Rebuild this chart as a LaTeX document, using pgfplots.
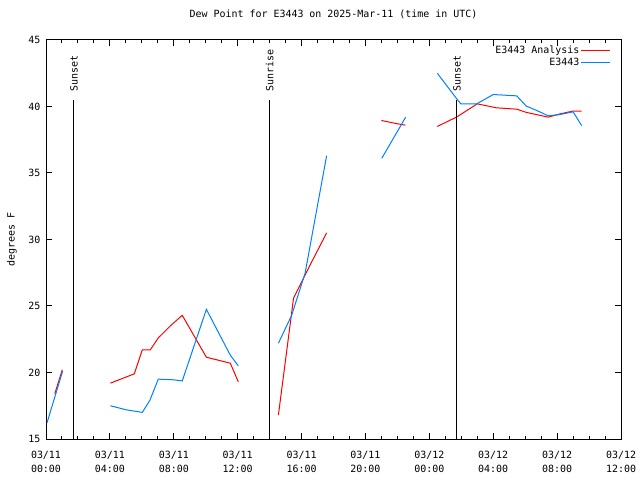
\documentclass[border=0pt]{standalone}
\usepackage{fontspec}
\setmainfont{DejaVu Sans Mono}
\usepackage{pgfplots}
\pgfplotsset{compat=1.18}
\definecolor{gred}{RGB}{255,0,0}
\definecolor{gblue}{RGB}{0,128,255}
\begin{document}
\fontsize{10}{12}\selectfont
\begin{tikzpicture}
\useasboundingbox (0bp,0bp) rectangle (640bp,480bp);
\begin{axis}[
  at={(46bp,41bp)}, anchor=south west,
  scale only axis, width=575bp, height=399bp,
  xmin=0, xmax=36, ymin=15, ymax=45,
  xtick={0,4,...,36}, minor x tick num=3,
  ytick={15,20,...,45},
  xticklabels={{03/11\\00:00},{03/11\\04:00},{03/11\\08:00},{03/11\\12:00},{03/11\\16:00},{03/11\\20:00},{03/12\\00:00},{03/12\\04:00},{03/12\\08:00},{03/12\\12:00}},
  xticklabel style={align=center, font=\fontsize{10}{14}\selectfont, yshift=-9bp},
  yticklabel style={xshift=-2bp},
  /pgf/number format/assume math mode=true,
  major tick length=6bp, minor tick length=3bp,
  every tick/.style={black, line width=1bp},
  axis line style={line width=1bp},
  title={Dew Point for E3443 on 2025-Mar-11 (time in UTC)},
  title style={at={(axis description cs:0.5,1)}, anchor=center, yshift=20bp},
  ylabel={degrees F},
  ylabel style={at={(axis description cs:0,0.5)}, anchor=center, yshift=34bp},
  unbounded coords=jump,
  legend style={at={(axis description cs:1,1)}, anchor=north east, xshift=-10bp, yshift=-4bp, draw=none, fill=none, inner sep=0pt, row sep=0bp, nodes={inner sep=1.5bp}},
  legend cell align=right,
  legend plot pos=right,
  legend image code/.code={\draw[#1] (3bp,0bp) -- (32bp,0bp);},
]
\addplot[gred, line width=1bp] coordinates {
(0.55,18.4)(1.02,20.2) (1.5,nan)
(4.03,19.2)(5.53,19.9)(6.03,21.7)(6.53,21.7)(7.03,22.6)(7.78,23.5)(8.53,24.3)(10.04,21.15)(11.54,20.7)(12.04,19.3) (13,nan)
(14.55,16.8)(15.5,25.6)(16.5,28.0)(17.57,30.5) (19,nan)
(21.0,38.95)(22.0,38.7)(22.5,38.6) (23,nan)
(24.5,38.5)(25.7,39.2)(27.0,40.2)(28.2,39.9)(29.47,39.8)(30.06,39.56)(31.45,39.2)(32.2,39.45)(33.0,39.66)(33.54,39.66)
};
\addlegendentry{E3443 Analysis}
\addplot[gblue, line width=1bp] coordinates {
(0.06,16.2)(1.04,20.1) (2,nan)
(4.03,17.5)(5.0,17.2)(6.03,17.0)(6.5,17.9)(7.03,19.5)(8.0,19.45)(8.53,19.36)(10.04,24.75)(11.54,21.3)(12.04,20.5) (13,nan)
(14.55,22.2)(15.38,24.3)(16.22,27.46)(17.57,36.3) (19,nan)
(21.02,36.1)(22.52,39.2) (23,nan)
(24.5,42.5)(25.7,40.6)(25.97,40.2)(26.97,40.2)(28.0,40.9)(29.47,40.8)(30.06,40.04)(30.72,39.7)(31.45,39.3)(32.2,39.4)(33.0,39.6)(33.54,38.56)
};
\addlegendentry{E3443}
\addplot[black, line width=1bp, forget plot] coordinates {(1.75,15)(1.75,40.5)};
\addplot[black, line width=1bp, forget plot] coordinates {(14.0,15)(14.0,40.5)};
\addplot[black, line width=1bp, forget plot] coordinates {(25.73,15)(25.73,40.5)};
\node[rotate=90, anchor=west, inner sep=0pt] at (axis cs:1.75,41.1) {Sunset};
\node[rotate=90, anchor=west, inner sep=0pt] at (axis cs:14.0,41.1) {Sunrise};
\node[rotate=90, anchor=west, inner sep=0pt] at (axis cs:25.73,41.1) {Sunset};
\end{axis}
\end{tikzpicture}
\end{document}
